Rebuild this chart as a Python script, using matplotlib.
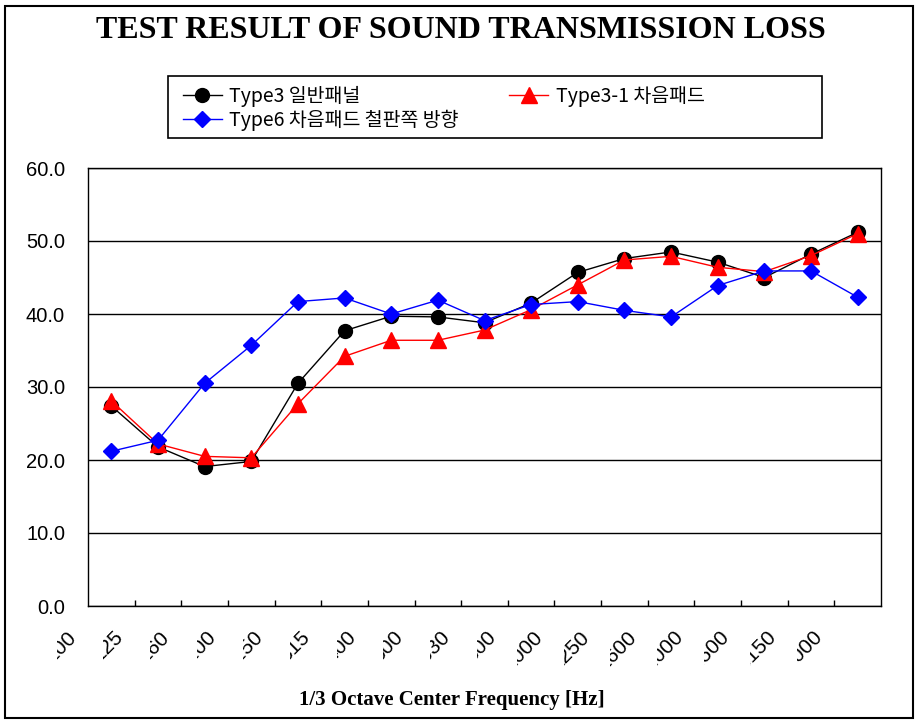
import numpy as np
import matplotlib
matplotlib.use("Agg")
import matplotlib.pyplot as plt
from matplotlib.patches import Rectangle
from matplotlib.transforms import Bbox, TransformedBbox

# data
freq_labels = ["100", "125", "160", "200", "250", "315", "400", "500", "630",
               "800", "1000", "1250", "1600", "2000", "2500", "3150", "4000"]
type3 = [27.4, 21.8, 19.1, 19.8, 30.5, 37.7, 39.7, 39.6, 38.8,
         41.5, 45.7, 47.6, 48.5, 47.1, 45.0, 48.2, 51.2]
type3_1 = [28.1, 22.2, 20.5, 20.3, 27.7, 34.2, 36.4, 36.4, 37.8,
           40.6, 44.0, 47.4, 47.9, 46.4, 45.8, 48.0, 51.0]
type6 = [21.2, 22.7, 30.5, 35.7, 41.7, 42.2, 40.0, 41.9, 39.1,
         41.3, 41.7, 40.5, 39.6, 43.9, 45.9, 45.9, 42.3]
series_names = ["Type3 일반패널", "Type3-1 차음패드", "Type6 차음패드 철판쪽 방향"]

W, H = 924, 726
fig = plt.figure(figsize=(W / 100, H / 100), dpi=100)
fig.patch.set_facecolor("white")

# outer chart border
fig.patches.append(Rectangle((5 / W, 1 - 718 / H), 908 / W, 712 / H, transform=fig.transFigure,
                             fill=False, edgecolor="black", lw=1.5))

ax = fig.add_axes([88 / W, 1 - 606 / H, 793 / W, 438 / H])
x = np.arange(len(freq_labels))

l1, = ax.plot(x, type3, color="black", lw=1, marker="o", ms=10, mec="black", mfc="black")
l2, = ax.plot(x, type3_1, color="red", lw=1, marker="^", ms=11, mec="red", mfc="red")
l3, = ax.plot(x, type6, color="blue", lw=1, marker="D", ms=8, mec="blue", mfc="blue")

ax.set_xlim(-0.5, len(freq_labels) - 0.5)
ax.set_ylim(0, 60)
ax.set_yticks(np.arange(0, 61, 10))
ax.set_yticklabels([f"{v:.1f}" for v in np.arange(0, 61, 10)], fontsize=14.5,
                   family="Liberation Sans")
ax.tick_params(axis="y", length=0, pad=16.5)
ax.set_xticks(np.arange(0.5, len(freq_labels) - 1, 1))
ax.set_xticklabels([])
ax.tick_params(axis="x", direction="in", length=4.3, width=1, color="black")
ax.yaxis.grid(True, color="black", lw=1)
ax.set_axisbelow(True)
for s in ax.spines.values():
    s.set_color("black")
    s.set_linewidth(1)

# rotated category labels, clipped like the original
for i, lab in enumerate(freq_labels):
    cx = ax.transData.transform((i, 0))[0]
    ax_x = cx - 38
    ax_y = 634
    t = fig.text(ax_x / W, 1 - ax_y / H, lab, rotation=45, rotation_mode="anchor",
                 ha="right", va="center", fontsize=15, family="Liberation Sans")
    left = cx - 36 - 6.2 * len(lab)
    clip = TransformedBbox(Bbox.from_extents(left / W, 0, (cx - 20) / W, 1), fig.transFigure)
    t.set_clip_box(clip)
    t.set_clip_on(True)

fig.text(461 / W, 1 - 30 / H, "TEST RESULT OF SOUND TRANSMISSION LOSS",
         ha="center", va="center", fontsize=23, fontweight="bold", family="Liberation Serif")
fig.text(452 / W, 1 - 700 / H, "1/3 Octave Center Frequency [Hz]",
         ha="center", va="center", fontsize=15, fontweight="bold", family="Liberation Serif")

# legend box drawn separately to match the wide frame
fig.patches.append(Rectangle((168 / W, 1 - 138 / H), 654 / W, 62 / H, transform=fig.transFigure,
                             fill=False, edgecolor="black", lw=1.2))
leg = fig.legend([l1, l3, l2], [series_names[0], series_names[2], series_names[1]],
                 ncol=2, loc="upper left", bbox_to_anchor=(173 / W, 1 - 76 / H),
                 frameon=False, borderpad=0, handlelength=2.0, handletextpad=0.4,
                 columnspacing=2.6, labelspacing=0.15,
                 prop={"family": ["Noto Sans CJK KR", "DejaVu Sans"], "size": 14})

fig.savefig("out.png", dpi=100)
